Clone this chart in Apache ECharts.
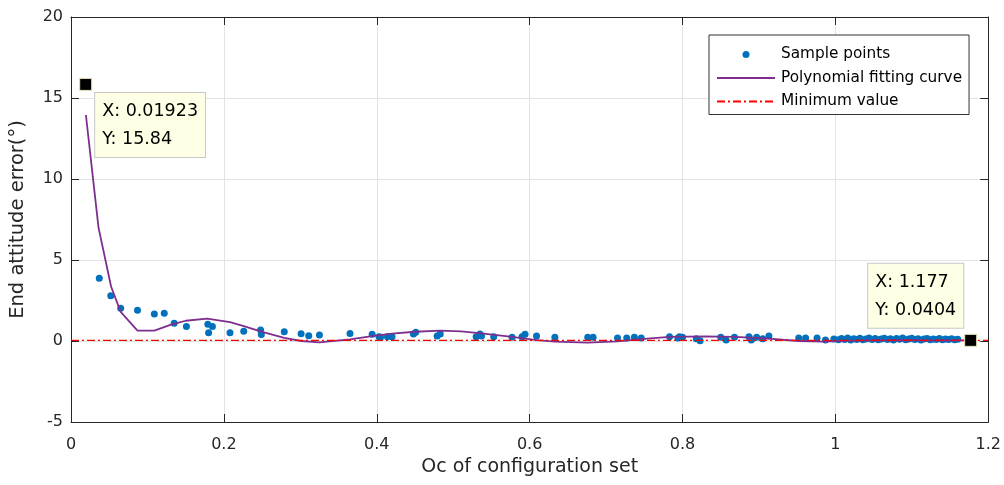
<!DOCTYPE html>
<html><head><meta charset="utf-8">
<script src="https://cdn.jsdelivr.net/npm/echarts@6/dist/echarts.min.js"></script>
<style>html,body{margin:0;padding:0;background:#fff}#c{width:1004px;height:485px}</style>
</head><body><div id="c"></div>
<script>
// Sample points [Oc, error]
var samplePoints = [
 [0.01923,15.84],[0.037,3.87],[0.052,2.8],[0.065,2.02],[0.087,1.9],[0.109,1.67],[0.122,1.72],[0.135,1.1],[0.151,0.9],
 [0.179,1.03],[0.185,0.9],[0.18,0.51],[0.208,0.51],[0.226,0.6],[0.248,0.68],[0.249,0.4],[0.279,0.57],[0.301,0.45],
 [0.311,0.33],[0.325,0.37],[0.365,0.47],[0.394,0.41],[0.403,0.27],[0.405,0.23],[0.414,0.27],[0.42,0.27],
 [0.448,0.43],[0.451,0.54],[0.479,0.31],[0.483,0.43],[0.53,0.27],[0.535,0.43],[0.537,0.31],[0.553,0.27],
 [0.577,0.23],[0.59,0.27],[0.594,0.41],[0.609,0.31],[0.633,0.23],[0.676,0.23],[0.683,0.23],[0.715,0.19],
 [0.727,0.19],[0.737,0.23],[0.746,0.19],[0.783,0.27],[0.794,0.19],[0.796,0.27],[0.8,0.23],[0.818,0.14],
 [0.823,0.02],[0.85,0.23],[0.857,0.06],[0.868,0.23],[0.887,0.27],[0.89,0.06],[0.897,0.23],[0.905,0.14],
 [0.913,0.31],[0.952,0.19],[0.961,0.19],[0.976,0.19],[0.987,0.06],[0.998,0.12],[1.004,0.08],[1.008,0.16],
 [1.012,0.1],[1.016,0.18],[1.02,0.06],[1.024,0.14],[1.028,0.1],[1.032,0.17],[1.036,0.08],[1.04,0.13],
 [1.044,0.18],[1.048,0.09],[1.052,0.15],[1.056,0.07],[1.06,0.12],[1.064,0.17],[1.068,0.1],[1.072,0.14],
 [1.076,0.06],[1.08,0.16],[1.084,0.11],[1.088,0.19],[1.092,0.08],[1.096,0.13],[1.1,0.17],[1.104,0.09],
 [1.108,0.14],[1.112,0.06],[1.116,0.12],[1.12,0.16],[1.124,0.08],[1.128,0.13],[1.132,0.1],[1.136,0.15],
 [1.14,0.07],[1.144,0.12],[1.148,0.09],[1.152,0.14],[1.156,0.08],[1.16,0.11],[1.177,0.0404]
];
// Polynomial fitting curve [Oc, error]
var fitCurve = [
 [0.0195,13.95],[0.036,7.0],[0.0525,3.35],[0.065,1.8],[0.087,0.64],[0.109,0.64],[0.13,0.99],[0.15,1.25],
 [0.178,1.38],[0.208,1.17],[0.226,0.92],[0.249,0.58],[0.279,0.2],[0.301,0.0],[0.325,-0.08],[0.365,0.1],
 [0.394,0.3],[0.42,0.45],[0.45,0.57],[0.483,0.64],[0.51,0.6],[0.537,0.47],[0.577,0.25],[0.609,0.06],
 [0.633,-0.04],[0.676,-0.1],[0.715,-0.02],[0.746,0.12],[0.783,0.25],[0.83,0.28],[0.868,0.25],[0.909,0.16],
 [0.952,0.0],[0.985,-0.04],[1.02,0.02],[1.08,0.05],[1.177,0.04]
];
var minValue = 0.0404;
var minLine = [[0, minValue],[1.2, minValue]];
var xTicks = {min:0, max:1.2, interval:0.2};
var yTicks = {min:-5, max:20, interval:5};
var tipLeft = [0.01923, 15.84];
var tipRight = [1.177, 0.0404];

var font = '"DejaVu Sans", sans-serif';
var axisCol = '#262626';
var chart = echarts.init(document.getElementById('c'));
function fmt(v){ return String(+v.toFixed(2)); }
var tipLabel = {
  show:true, color:'#000', fontFamily:font, fontSize:17.5, lineHeight:28.5,
  backgroundColor:'#ffffe6', borderColor:'#c8c8c8', borderWidth:1, padding:[4,7,3,7], align:'left', verticalAlign:'top'
};
function tipFmt(p){ return 'X: '+p.value[0]+'\nY: '+p.value[1]; }
chart.setOption({
  animation:false,
  grid:{left:69, right:14, top:17, bottom:63, containLabel:false},
  xAxis:[{type:'value', min:xTicks.min, max:xTicks.max, interval:xTicks.interval,
    name:'Oc of configuration set', nameLocation:'middle', nameGap:31,
    nameTextStyle:{fontFamily:font, fontSize:19, color:axisCol},
    axisLine:{show:true, onZero:false, lineStyle:{color:axisCol, width:1}},
    axisTick:{show:true, inside:true, length:8, lineStyle:{color:axisCol}},
    axisLabel:{fontFamily:font, fontSize:16, color:axisCol, margin:15, formatter:fmt},
    splitLine:{show:true, lineStyle:{color:'#e3e3e3', width:1}}},
   {type:'value', position:'top', min:xTicks.min, max:xTicks.max, interval:xTicks.interval,
    axisLine:{show:true, onZero:false, lineStyle:{color:axisCol}},
    axisTick:{show:true, inside:true, length:8, lineStyle:{color:axisCol}},
    axisLabel:{show:false}, splitLine:{show:false}}],
  yAxis:[{type:'value', min:yTicks.min, max:yTicks.max, interval:yTicks.interval,
    name:'End attitude error(°)', nameLocation:'middle', nameGap:43,
    nameTextStyle:{fontFamily:font, fontSize:19.5, color:axisCol},
    axisLine:{show:true, onZero:false, lineStyle:{color:axisCol, width:1}},
    axisTick:{show:true, inside:true, length:8, lineStyle:{color:axisCol}},
    axisLabel:{fontFamily:font, fontSize:16, color:axisCol, margin:8},
    splitLine:{show:true, lineStyle:{color:'#e3e3e3', width:1}}},
   {type:'value', position:'right', min:yTicks.min, max:yTicks.max, interval:yTicks.interval,
    axisLine:{show:true, onZero:false, lineStyle:{color:axisCol}},
    axisTick:{show:true, inside:true, length:8, lineStyle:{color:axisCol}},
    axisLabel:{show:false}, splitLine:{show:false}}],
  legend:{orient:'vertical', left:709, top:35, padding:[10.5,7,4,7], itemGap:5.5,
    itemWidth:58, itemHeight:7, backgroundColor:'#fff', borderColor:'#333', borderWidth:1,
    textStyle:{fontFamily:font, fontSize:15.3, lineHeight:18, color:'#000', padding:[0,0,0,1]},
    data:[{name:'Sample points', icon:'circle'},
          {name:'Polynomial fitting curve', itemStyle:{opacity:0}},
          {name:'Minimum value', itemStyle:{opacity:0}}]},
  series:[
    {name:'Sample points', type:'scatter', data:samplePoints, symbol:'circle', symbolSize:7,
     itemStyle:{color:'#0072bd', opacity:1}, z:3},
    {name:'Polynomial fitting curve', type:'line', data:fitCurve, symbol:'none', smooth:false,
     lineStyle:{color:'#7e2f8e', width:1.8}, itemStyle:{color:'#7e2f8e'}, z:4},
    {name:'Minimum value', type:'line', data:minLine, symbol:'none',
     lineStyle:{color:'#ff0000', width:1.2, type:[8,3,2,3]}, itemStyle:{color:'#ff0000'}, z:5},
    {name:'tipL', type:'scatter', data:[tipLeft], symbol:'rect', symbolSize:12,
     itemStyle:{color:'#000', borderColor:'#e8e4b8', borderWidth:1, opacity:1}, z:10,
     label:Object.assign({}, tipLabel, {position:[16,15], formatter:tipFmt})},
    {name:'tipR', type:'scatter', data:[tipRight], symbol:'rect', symbolSize:12,
     itemStyle:{color:'#000', borderColor:'#e8e4b8', borderWidth:1, opacity:1}, z:10,
     label:Object.assign({}, tipLabel, {position:[-96,-70], formatter:tipFmt})}
  ]
});
</script></body></html>
